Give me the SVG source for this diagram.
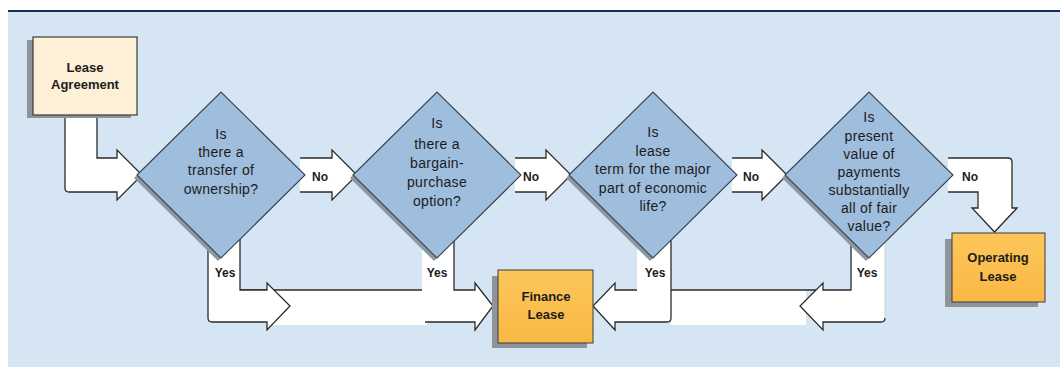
<svg xmlns="http://www.w3.org/2000/svg" width="1060" height="367" viewBox="0 0 1060 367">
<defs>
<linearGradient id="orange" x1="0" y1="0" x2="0" y2="1">
<stop offset="0" stop-color="#fdc65a"/>
<stop offset="1" stop-color="#f9b845"/>
</linearGradient>
</defs>
<style>
.t{font-family:"Liberation Sans",Arial,sans-serif;fill:#1c1c1c;text-anchor:middle}
.q{font-size:14px;letter-spacing:0.3px}
.b{font-size:13px;font-weight:bold}
.l{font-size:12px;font-weight:bold}
.fill{fill:#ffffff;stroke:none}
.edge{fill:none;stroke:#2b2b2b;stroke-width:1.3;stroke-linejoin:miter}
.faint{fill:none;stroke:#c9d3de;stroke-width:1}
.dia{fill:#9fbddc;stroke:#38434f;stroke-width:1.1}
.dsh{fill:#8c97a4}
.bsh{fill:#8f949b}
</style>
<rect x="0" y="0" width="1060" height="367" fill="#ffffff"/>
<rect x="8" y="11" width="1052" height="356" fill="#d5e5f4"/>
<rect x="8" y="10" width="1052" height="2" fill="#1c2b55"/>

<g id="connectors">
<!-- Lease -> D1 -->
<path class="fill" d="M65,112 L65,188 Q65,192 69,192 L117,192 L117,200 L142,175 L117,150 L117,158 L97,158 L97,112 Z"/>
<path class="edge" d="M65,112 L65,188 Q65,192 69,192 L117,192 L117,200 L142,175 L117,150 L117,158 L97,158 L97,112"/>
<!-- No arrows -->
<path class="fill" d="M300,158 L332,158 L332,150 L357,175 L332,200 L332,192 L300,192 Z"/>
<path class="edge" d="M300,158 L332,158 L332,150 L357,175 L332,200 L332,192 L300,192"/>
<path class="fill" d="M515,158 L546,158 L546,150 L571,175 L546,200 L546,192 L515,192 Z"/>
<path class="edge" d="M515,158 L546,158 L546,150 L571,175 L546,200 L546,192 L515,192"/>
<path class="fill" d="M732,158 L762,158 L762,150 L787,175 L762,200 L762,192 L732,192 Z"/>
<path class="edge" d="M732,158 L762,158 L762,150 L787,175 L762,200 L762,192 L732,192"/>
<path class="fill" d="M948,158 L1008,158 Q1012,158 1012,162 L1012,208 L1017,208 L994.5,232 L972,208 L978,208 L978,192 L948,192 Z"/>
<path class="edge" d="M948,158 L1008,158 Q1012,158 1012,162 L1012,208 L1017,208 L994.5,232 L972,208 L978,208 L978,192 L948,192"/>
<!-- Yes bands -->
<rect class="fill" x="267" y="290" width="160" height="35"/>
<rect class="fill" x="671" y="290" width="135" height="35"/>
<path class="edge" d="M240,290 L422,290"/>
<path class="edge" d="M671,290 L823,290"/>
<!-- Yes arrow 1 -->
<path class="fill" d="M208,238 L208,318 Q208,322 212,322 L267,322 L267,330 L290,306 L267,283 L267,290 L240,290 L240,236 Z"/>
<path class="edge" d="M208,238 L208,318 Q208,322 212,322 L267,322 L267,330 L290,306 L267,283 L267,290 L240,290 L240,236"/>
<!-- Yes arrow 2 -->
<path class="fill" d="M422,238 L422,322 L475,322 L475,330 L493,306 L475,283 L475,290 L454,290 L454,238 Z"/>
<path class="edge" d="M454,238 L454,290 L475,290 L475,283 L493,306 L475,330 L475,322 L425,322"/>
<!-- Yes arrow 3 -->
<path class="fill" d="M637,238 L637,290 L615,290 L615,283 L593,306 L615,330 L615,322 L667,322 Q671,322 671,318 L671,238 Z"/>
<path class="edge" d="M637,290 L615,290 L615,283 L593,306 L615,330 L615,322 L667,322 Q671,322 671,318 L671,238"/>
<!-- Yes arrow 4 -->
<path class="fill" d="M851,238 L851,290 L823,290 L823,283 L800,306 L823,330 L823,322 L881,322 Q885,322 885,318 L885,238 Z"/>
<path class="faint" d="M885,240 L885,318"/>
<path class="edge" d="M851,238 L851,290 L823,290 L823,283 L800,306 L823,330 L823,322 L881,322 Q885,322 885,318"/>
<!-- labels -->
<text class="t l" x="320" y="181">No</text>
<text class="t l" x="531" y="181">No</text>
<text class="t l" x="751" y="181">No</text>
<text class="t l" x="970" y="181">No</text>
<text class="t l" x="225" y="277">Yes</text>
<text class="t l" x="437" y="277">Yes</text>
<text class="t l" x="655" y="277">Yes</text>
<text class="t l" x="867" y="277">Yes</text>
</g>

<g id="node-lease">
<rect class="bsh" x="27" y="40" width="104" height="78"/>
<rect x="33" y="37" width="104" height="78" fill="#fdf0d7" stroke="#3a3a3a" stroke-width="1.2"/>
<text class="t b" x="85" y="72">Lease</text>
<text class="t b" x="85" y="89">Agreement</text>
</g>

<g id="node-d1">
<polygon class="dsh" points="134,178 218,95 302,178 218,261"/>
<polygon class="dia" points="137,175 221,92 305,175 221,258"/>
<text class="t q" x="221" y="139">Is</text>
<text class="t q" x="221" y="157">there a</text>
<text class="t q" x="221" y="175">transfer of</text>
<text class="t q" x="221" y="194">ownership?</text>
</g>

<g id="node-d2">
<polygon class="dsh" points="350,178 434,95 518,178 434,261"/>
<polygon class="dia" points="353,175 437,92 521,175 437,258"/>
<text class="t q" x="437" y="128">Is</text>
<text class="t q" x="437" y="149">there a</text>
<text class="t q" x="437" y="168">bargain-</text>
<text class="t q" x="437" y="187">purchase</text>
<text class="t q" x="437" y="206">option?</text>
</g>

<g id="node-d3">
<polygon class="dsh" points="566,178 650,95 734,178 650,261"/>
<polygon class="dia" points="569,175 653,92 737,175 653,258"/>
<text class="t q" x="653" y="137">Is</text>
<text class="t q" x="653" y="156">lease</text>
<text class="t q" x="653" y="174">term for the major</text>
<text class="t q" x="653" y="193">part of economic</text>
<text class="t q" x="653" y="211">life?</text>
</g>

<g id="node-d4">
<polygon class="dsh" points="782,178 866,95 950,178 866,261"/>
<polygon class="dia" points="785,175 869,92 953,175 869,258"/>
<text class="t q" x="869" y="122">Is</text>
<text class="t q" x="869" y="141">present</text>
<text class="t q" x="869" y="159">value of</text>
<text class="t q" x="869" y="177">payments</text>
<text class="t q" x="869" y="195">substantially</text>
<text class="t q" x="869" y="213">all of fair</text>
<text class="t q" x="869" y="231">value?</text>
</g>

<g id="node-finance">
<rect class="bsh" x="492" y="276" width="95" height="72"/>
<rect x="498" y="270" width="95" height="73" fill="url(#orange)" stroke="#3a3a3a" stroke-width="1"/>
<text class="t b" x="546" y="301">Finance</text>
<text class="t b" x="546" y="319">Lease</text>
</g>

<g id="node-operating">
<rect class="bsh" x="945" y="239" width="93" height="68"/>
<rect x="952" y="233" width="93" height="69" fill="url(#orange)" stroke="#3a3a3a" stroke-width="1"/>
<text class="t b" x="998" y="262">Operating</text>
<text class="t b" x="998" y="281">Lease</text>
</g>
</svg>
